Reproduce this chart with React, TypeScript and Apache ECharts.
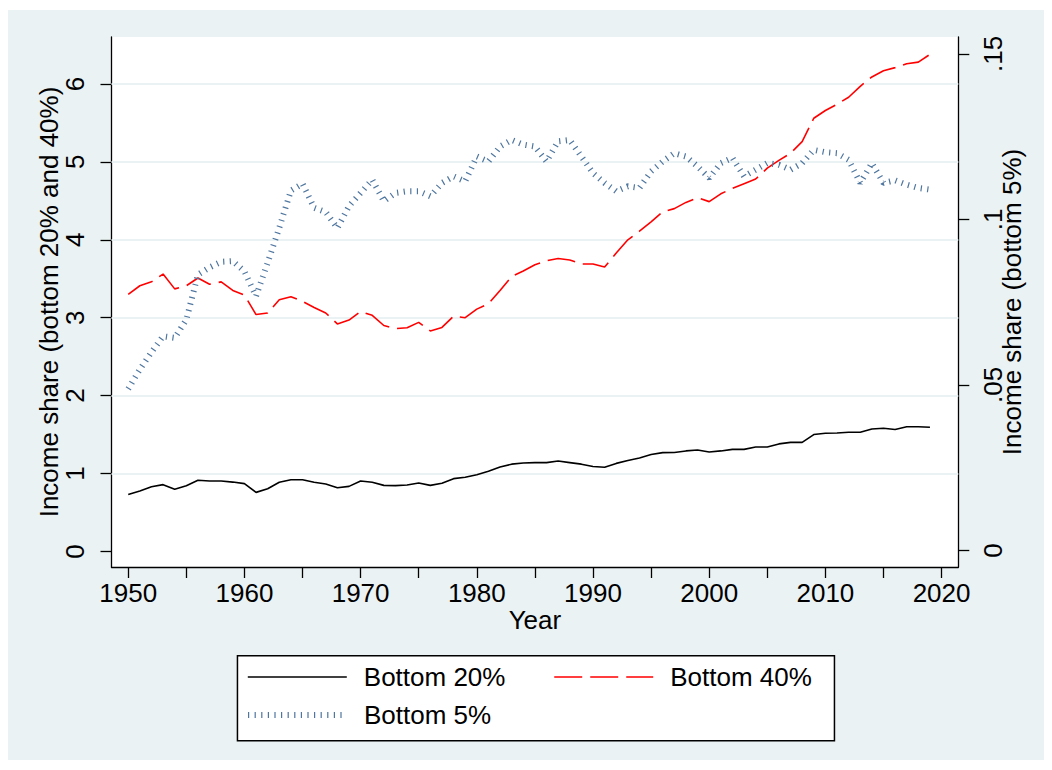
import React, { useEffect, useRef } from "react";
import * as echarts from "echarts";

const years: number[] = Array.from({ length: 70 }, (_, i) => 1950 + i);

const bottom20: number[] = [
  0.73, 0.775, 0.83, 0.857, 0.797, 0.844, 0.913, 0.904, 0.904, 0.89,
  0.87, 0.758, 0.805, 0.887, 0.92, 0.92, 0.887, 0.865, 0.818, 0.835,
  0.904, 0.887, 0.848, 0.844, 0.853, 0.878, 0.848, 0.874, 0.934, 0.951,
  0.985, 1.028, 1.084, 1.12, 1.135, 1.14, 1.14, 1.16, 1.14, 1.12,
  1.09, 1.08, 1.13, 1.166, 1.2, 1.243, 1.268, 1.27, 1.29, 1.302,
  1.277, 1.29, 1.31, 1.31, 1.34, 1.34, 1.38, 1.4, 1.4, 1.5,
  1.517, 1.52, 1.53, 1.53, 1.572, 1.58, 1.564, 1.6, 1.6, 1.594,
];

const bottom40: number[] = [
  3.3, 3.41, 3.46, 3.56, 3.37, 3.41, 3.51, 3.43, 3.46, 3.35,
  3.29, 3.04, 3.06, 3.23, 3.27, 3.21, 3.13, 3.06, 2.92, 2.97,
  3.08, 3.03, 2.9, 2.86, 2.87, 2.94, 2.83, 2.875, 3.02, 3.0,
  3.11, 3.18, 3.35, 3.53, 3.6, 3.68, 3.73, 3.76, 3.74, 3.69,
  3.69, 3.65, 3.83, 4.0, 4.11, 4.23, 4.36, 4.4, 4.48, 4.54,
  4.49, 4.59, 4.66, 4.72, 4.78, 4.92, 5.02, 5.11, 5.26, 5.56,
  5.66, 5.74, 5.83, 5.97, 6.09, 6.17, 6.21, 6.26, 6.28, 6.38,
];

const bottom5: number[] = [
  0.0488, 0.0547, 0.0599, 0.0647, 0.0642, 0.0697, 0.0833, 0.0855, 0.0872, 0.0874,
  0.0843, 0.0768, 0.0869, 0.0975, 0.1087, 0.1108, 0.1035, 0.1022, 0.0974, 0.104,
  0.108, 0.112, 0.1055, 0.108, 0.1085, 0.1085, 0.107, 0.111, 0.113, 0.1115,
  0.119, 0.1175, 0.122, 0.124, 0.1226, 0.122, 0.1175, 0.1236, 0.124, 0.119,
  0.114, 0.111, 0.1085, 0.11, 0.1095, 0.1145, 0.1175, 0.12, 0.119, 0.116,
  0.1125, 0.117, 0.1186, 0.113, 0.115, 0.117, 0.1165, 0.115, 0.117, 0.121,
  0.1203, 0.12, 0.118, 0.111, 0.117, 0.111, 0.1118, 0.1105, 0.1095, 0.109,
];

const xTickValues: number[] = [1950, 1955, 1960, 1965, 1970, 1975, 1980, 1985, 1990, 1995, 2000, 2005, 2010, 2015, 2020];
const xLabelValues: number[] = [1950, 1960, 1970, 1980, 1990, 2000, 2010, 2020];
const leftTickValues: number[] = [0, 1, 2, 3, 4, 5, 6];
const leftGridValues: number[] = [1, 2, 3, 4, 5, 6];
const rightTickValues: number[] = [0, 0.05, 0.1, 0.15];

const seriesNames = ["Bottom 20%", "Bottom 40%", "Bottom 5%"];

const FONT = "'Liberation Sans', Arial, Helvetica, sans-serif";
const BG = "#EAF2F3";
const BLUE = "#4f769f";
const RED_DASH = [28, 8];
const BLUE_DASH = [1.2, 5.4];

export default function App() {
  const ref = useRef<HTMLDivElement>(null);

  useEffect(() => {
    if (!ref.current) return;
    const chart = echarts.init(ref.current, null, { renderer: "svg" });

    const axisLineStyle = { color: "#000", width: 1.3 };
    const textBase = { color: "#000", fontSize: 26, fontFamily: FONT };
    const legendText = { ...textBase, lineHeight: 30, padding: [0, 0, 0, 12] };

    const option: any = {
      animation: false,
      backgroundColor: BG,
      textStyle: { fontFamily: FONT },
      grid: {
        left: 103.5,
        right: 85.7,
        top: 27,
        bottom: 195,
        show: true,
        backgroundColor: "#ffffff",
        borderWidth: 0,
        containLabel: false,
        outerBoundsMode: "none",
      },
      xAxis: {
        type: "value",
        min: 1948.56,
        max: 2021.44,
        name: "Year",
        nameLocation: "middle",
        nameGap: 40,
        nameMoveOverlap: false,
        nameTextStyle: { ...textBase },
        axisLine: { show: true, onZero: false, lineStyle: axisLineStyle },
        axisTick: { show: true, length: 11, customValues: xTickValues, lineStyle: axisLineStyle },
        axisLabel: {
          ...textBase,
          customValues: xLabelValues,
          margin: 13,
          formatter: (v: number) => String(v),
        },
        splitLine: { show: false },
      },
      yAxis: [
        {
          type: "value",
          position: "left",
          min: -0.2,
          max: 6.603,
          name: "Income share (bottom 20% and 40%)",
          nameLocation: "middle",
          nameRotate: 90,
          nameGap: 50,
          nameMoveOverlap: false,
          nameTextStyle: { ...textBase },
          axisLine: { show: true, onZero: false, lineStyle: axisLineStyle },
          axisTick: { show: true, length: 11, customValues: leftTickValues, lineStyle: axisLineStyle },
          axisLabel: {
            ...textBase,
            customValues: leftTickValues,
            rotate: 90,
            margin: 24,
            formatter: (v: number) => String(v),
          },
          splitLine: { show: false },
        },
        {
          type: "value",
          position: "right",
          min: -0.005,
          max: 0.1551,
          name: "Income share (bottom 5%)",
          nameLocation: "middle",
          nameRotate: 90,
          nameGap: 41,
          nameMoveOverlap: false,
          nameTextStyle: { ...textBase },
          axisLine: { show: true, onZero: false, lineStyle: axisLineStyle },
          axisTick: { show: true, length: 11, customValues: rightTickValues, lineStyle: axisLineStyle },
          axisLabel: {
            ...textBase,
            customValues: rightTickValues,
            rotate: 90,
            margin: 22,
            formatter: (v: number) => (v === 0 ? "0" : String(Number(v.toFixed(2))).replace(/^0/, "")),
          },
          splitLine: { show: false },
        },
      ],
      legend: [
        {
          data: [
            { name: seriesNames[0], lineStyle: { color: "#000", width: 1.6, type: "solid" } },
            { name: seriesNames[1], lineStyle: { color: "#ff0000", width: 1.6, type: RED_DASH } },
          ],
          left: 239,
          top: 652,
          orient: "horizontal",
          padding: 0,
          itemWidth: 99,
          itemHeight: 14,
          itemGap: 48,
          selectedMode: false,
          itemStyle: { opacity: 0 },
          textStyle: legendText,
        },
        {
          data: [
            { name: seriesNames[2], lineStyle: { color: BLUE, width: 6, type: BLUE_DASH, cap: "butt" } },
          ],
          left: 237,
          top: 690,
          orient: "horizontal",
          padding: 0,
          itemWidth: 99,
          itemHeight: 14,
          itemGap: 48,
          selectedMode: false,
          itemStyle: { opacity: 0 },
          textStyle: legendText,
        },
      ],
      graphic: [
        {
          type: "rect",
          left: 228.7,
          top: 645,
          z: -1,
          shape: { width: 597, height: 85 },
          style: { fill: "#ffffff", stroke: "#000", lineWidth: 1.5 },
          silent: true,
        },
      ],
      series: [
        {
          name: seriesNames[0],
          type: "line",
          yAxisIndex: 0,
          data: years.map((y, i) => [y, bottom20[i]]),
          symbol: "none",
          z: 3,
          lineStyle: { color: "#000", width: 1.6 },
          itemStyle: { color: "#000" },
          emphasis: { disabled: true },
          markLine: {
            silent: true,
            symbol: "none",
            z: 1,
            label: { show: false },
            lineStyle: { color: BG, width: 2, type: "solid" },
            emphasis: { disabled: true },
            data: leftGridValues.map((v) => ({ yAxis: v })),
          },
        },
        {
          name: seriesNames[1],
          type: "line",
          yAxisIndex: 0,
          data: years.map((y, i) => [y, bottom40[i]]),
          symbol: "none",
          z: 3,
          lineStyle: { color: "#ff0000", width: 1.6, type: RED_DASH },
          itemStyle: { color: "#ff0000" },
          emphasis: { disabled: true },
        },
        {
          name: seriesNames[2],
          type: "line",
          yAxisIndex: 1,
          data: years.map((y, i) => [y, bottom5[i]]),
          symbol: "none",
          z: 3,
          lineStyle: { color: BLUE, width: 6, type: BLUE_DASH, cap: "butt" },
          itemStyle: { color: BLUE },
          emphasis: { disabled: true },
        },
      ],
    };

    chart.setOption(option);
    return () => {
      chart.dispose();
    };
  }, []);

  return (
    <div
      ref={ref}
      style={{ width: 1036, height: 752, position: "relative", top: 2 }}
    />
  );
}
